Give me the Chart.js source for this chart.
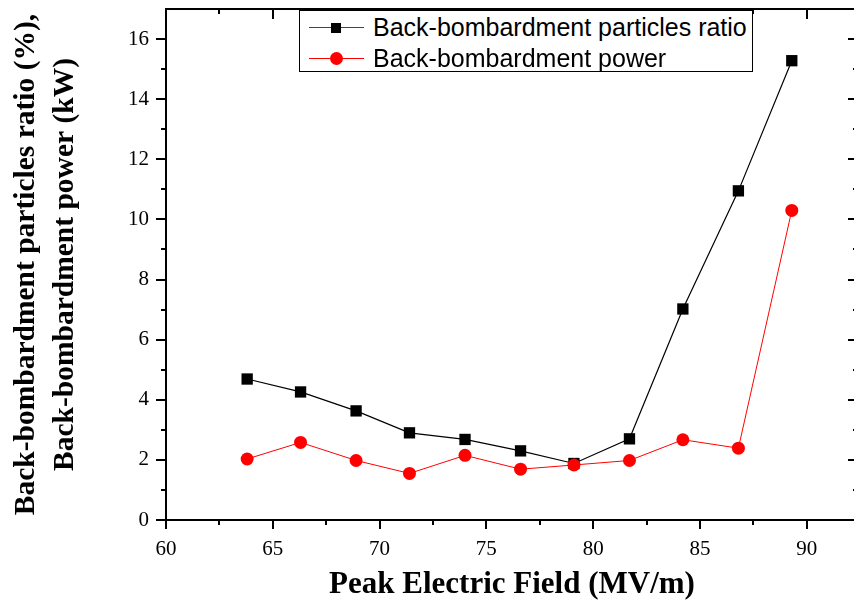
<!DOCTYPE html>
<html>
<head>
<meta charset="utf-8">
<script src="https://cdn.jsdelivr.net/npm/chart.js@4/dist/chart.umd.min.js"></script>
<style>
html,body{margin:0;padding:0;background:#fff;}
#wrap{position:relative;width:854px;height:609px;overflow:hidden;}
#c{position:absolute;left:0;top:0;}
#legend{position:absolute;left:299px;top:10px;width:454px;height:62px;box-sizing:border-box;border:1px solid #000;background:#fff;font-family:'Liberation Sans',Arial,sans-serif;font-size:25px;color:#000;}
.row{position:absolute;left:0;width:100%;height:30px;line-height:30px;}
.ln{position:absolute;left:9px;width:55px;height:1px;top:15px;}
.mk{position:absolute;}
.tx{position:absolute;left:73px;top:0;white-space:nowrap;}
</style>
</head>
<body>
<div id="wrap">
<canvas id="c" width="858" height="609"></canvas>
<div id="legend"></div>
</div>
<script>
// ---- data ----
const fieldValues = [63.8, 66.3, 68.9, 71.4, 74.0, 76.6, 79.1, 81.7, 84.2, 86.8, 89.3];
const particleRatio = [4.69, 4.26, 3.63, 2.90, 2.68, 2.30, 1.88, 2.70, 7.02, 10.95, 15.28];
const bombardPower = [2.03, 2.58, 1.98, 1.55, 2.15, 1.69, 1.83, 1.98, 2.67, 2.39, 10.30];
const seriesNames = ['Back-bombardment particles ratio', 'Back-bombardment power'];
const xTicks = [60, 65, 70, 75, 80, 85, 90];
const yTicks = [0, 2, 4, 6, 8, 10, 12, 14, 16];
const xTitle = 'Peak Electric Field (MV/m)';
const yTitle = ['Back-bombardment particles ratio (%),', 'Back-bombardment power (kW)'];

const xMinor = xTicks.map(v => v + 2.5);
const yMinor = yTicks.map(v => v + 1).filter(v => v < 17);

const toPts = (xs, ys) => xs.map((x, i) => ({x: x, y: ys[i]}));

const framePlugin = {
  id: 'frame',
  beforeDatasetsDraw(chart) {
    const ctx = chart.ctx;
    const {left, right, top, bottom} = chart.chartArea;
    const xs = chart.scales.x, ys = chart.scales.y;
    ctx.save();
    ctx.strokeStyle = '#000';
    ctx.lineWidth = 2;
    ctx.lineCap = 'butt';
    const seg = (x1, y1, x2, y2) => { ctx.beginPath(); ctx.moveTo(x1, y1); ctx.lineTo(x2, y2); ctx.stroke(); };
    ctx.strokeRect(left, top, right - left, bottom - top);
    xTicks.forEach(v => { const p = Math.round(xs.getPixelForValue(v)); seg(p, bottom, p, bottom + 9); seg(p, top, p, top + 10); });
    xMinor.forEach(v => { if (v > xs.max) return; const p = Math.round(xs.getPixelForValue(v)); seg(p, bottom, p, bottom + 5); seg(p, top, p, top + 5); });
    yTicks.forEach(v => { const p = Math.round(ys.getPixelForValue(v)); seg(left - 10, p, left, p); seg(right - 10, p, right, p); });
    yMinor.forEach(v => { const p = Math.round(ys.getPixelForValue(v)); seg(left - 5, p, left, p); seg(right - 5, p, right, p); });
    ctx.restore();
  }
};

const serif = "'Liberation Serif','Times New Roman',serif";

const chart = new Chart(document.getElementById('c'), {
  type: 'line',
  data: {
    datasets: [
      {
        label: seriesNames[0],
        data: toPts(fieldValues, particleRatio),
        borderColor: '#000',
        backgroundColor: '#000',
        borderWidth: 1.2,
        pointStyle: 'rect',
        pointRadius: 8,
        pointBorderWidth: 0,
        pointBackgroundColor: '#000',
        tension: 0,
        order: 1
      },
      {
        label: seriesNames[1],
        data: toPts(fieldValues, bombardPower),
        borderColor: '#ff0000',
        backgroundColor: '#ff0000',
        borderWidth: 1,
        pointStyle: 'circle',
        pointRadius: 6.5,
        pointBorderWidth: 0,
        pointBackgroundColor: '#ff0000',
        tension: 0,
        order: 0
      }
    ]
  },
  options: {
    responsive: false,
    animation: false,
    devicePixelRatio: 1,
    layout: {autoPadding: false, padding: {top: 9, right: 0, left: 0, bottom: 0}},
    plugins: {legend: {display: false}, tooltip: {enabled: false}},
    scales: {
      x: {
        type: 'linear',
        min: 60,
        max: 92.4,
        grid: {display: false, drawTicks: false},
        border: {display: false},
        afterBuildTicks: s => { s.ticks = xTicks.map(v => ({value: v})); },
        afterFit: s => { s.height = 89; s.paddingLeft = 0; s.paddingRight = 0; },
        ticks: {
          autoSkip: false, maxRotation: 0, padding: 17,
          color: '#000', font: {family: serif, size: 21}
        },
        title: {
          display: true, text: xTitle, color: '#000',
          font: {family: serif, size: 31, weight: 'bold', lineHeight: 1.2},
          padding: {top: 0, bottom: 5}
        }
      },
      y: {
        type: 'linear',
        min: 0,
        max: 17,
        grid: {display: false, drawTicks: false},
        border: {display: false},
        afterBuildTicks: s => { s.ticks = yTicks.map(v => ({value: v})); },
        afterFit: s => { s.width = 166; s.paddingTop = 0; s.paddingBottom = 0; s.paddingLeft = 0; s.paddingRight = 0; },
        ticks: {
          autoSkip: false, padding: 17,
          color: '#000', font: {family: serif, size: 21}
        },
        title: {
          display: true, text: yTitle, color: '#000',
          font: {family: serif, size: 29.5, weight: 'bold', lineHeight: 1.33},
          padding: {top: 6.5, bottom: 0}
        }
      }
    }
  },
  plugins: [framePlugin]
});

// HTML legend built from the datasets
const legend = document.getElementById('legend');
const rowTops = [1, 32];
chart.data.datasets.forEach((ds, i) => {
  const row = document.createElement('div');
  row.className = 'row';
  row.style.top = rowTops[i] + 'px';
  const ln = document.createElement('div');
  ln.className = 'ln';
  ln.style.background = i === 0 ? '#444' : ds.borderColor;
  row.appendChild(ln);
  const mk = document.createElement('div');
  mk.className = 'mk';
  const size = i === 0 ? 10 : 13;
  mk.style.width = size + 'px';
  mk.style.height = size + 'px';
  mk.style.left = (36 - size / 2) + 'px';
  mk.style.top = (15.5 - size / 2) + 'px';
  mk.style.background = ds.pointBackgroundColor;
  if (i === 1) mk.style.borderRadius = '50%';
  row.appendChild(mk);
  const tx = document.createElement('span');
  tx.className = 'tx';
  tx.textContent = ds.label;
  row.appendChild(tx);
  legend.appendChild(row);
});
</script>
</body>
</html>
